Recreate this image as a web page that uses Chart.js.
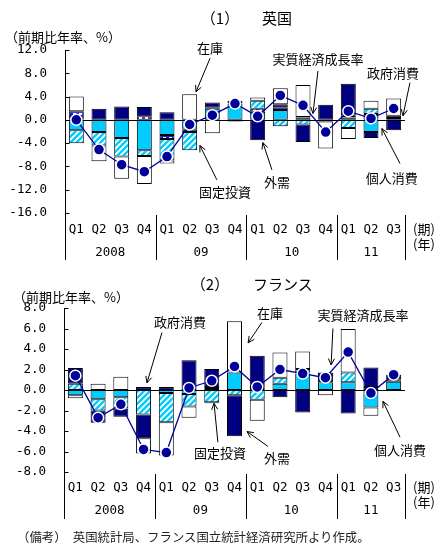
<!DOCTYPE html>
<html>
<head>
<meta charset="utf-8">
<script src="https://cdn.jsdelivr.net/npm/chart.js@4.4.0/dist/chart.umd.min.js"></script>
<style>
  body { margin: 0; background: #fff; }
  #wrap { position: relative; width: 445px; height: 552px; overflow: hidden;
          font-family: "Noto Sans CJK JP", sans-serif; color: #000; }
  canvas { position: absolute; left: 0; }
  .c { position: absolute; white-space: nowrap; transform: translate(-50%, -50%); }
  .l { position: absolute; white-space: nowrap; transform: translateY(-50%); }
</style>
</head>
<body>
<div id="wrap">
  <canvas id="uk" width="445" height="268" style="top:0"></canvas>
  <canvas id="fr" width="445" height="284" style="top:268px"></canvas>

  <div class="c" style="left:220px;top:17px;font-size:15px">（1）</div>
  <div class="l" style="left:262px;top:17px;font-size:15px">英国</div>
  <div class="l" style="left:5px;top:36px;font-size:13px">（前期比年率、%）</div>

  <div class="c" style="left:210px;top:283px;font-size:15px">（2）</div>
  <div class="l" style="left:253px;top:283px;font-size:15px">フランス</div>
  <div class="l" style="left:13px;top:296px;font-size:13px">（前期比年率、%）</div>

  <div class="l" style="left:17px;top:537px;font-size:12.4px;color:#222">（備考）　英国統計局、フランス国立統計経済研究所より作成。</div>
</div>

<script>
// categories
const quarters = ['Q1', 'Q2', 'Q3', 'Q4', 'Q1', 'Q2', 'Q3', 'Q4', 'Q1', 'Q2', 'Q3', 'Q4', 'Q1', 'Q2', 'Q3'];
const years = ['2008', '09', '10', '11'];
const yearSpans = [4, 4, 4, 3];

// UK contributions (% pt, annualised q/q)
const ukConsumption = [-1.8, -2.1, -3.1, -5.2, -2.6, -1.7, 1.9, 2.8, 1.4, 1.7, 0.4, -0.3, 0.4, -2.1, 0.3];
const ukGovernment  = [1.5, 0, 0, 0.6, -0.7, -0.4, 0.2, 0, 0.5, 0.45, 0.1, 0, 0.3, 1.0, 0.4];
const ukInvestment  = [-2.2, -2.3, -3.2, -1.0, -3.7, -3.1, 0, 0, 1.4, -1.1, -0.8, 0, -1.4, 0.9, 0];
const ukNetExports  = [0, 1.9, 2.3, 1.6, 1.3, 0, 0.9, 0.5, -3.5, 0.55, -3.0, 2.6, 5.5, -1.0, -1.8];
const ukInventories = [2.5, -2.7, -3.8, -4.8, -0.5, 4.4, -2.3, -0.3, 0.55, 2.75, 5.5, -4.6, -1.9, 1.4, 2.95];
const ukGdp         = [0.0, -5.1, -7.7, -8.9, -6.3, -0.8, 0.8, 2.8, 0.6, 4.2, 2.5, -2.1, 1.5, 0.25, 1.95];

// France contributions
const frConsumption = [-0.5, -0.9, -0.7, 0, -0.3, -0.4, 0.2, 1.7, 0.2, 0.6, 1.6, 0.75, 0.75, -1.7, 0.8];
const frGovernment  = [0, 0, 0, 0.3, 0.3, 0, 0.1, 0, 0.1, 0, 0.1, 0, 0, 0.3, 0.1];
const frInvestment  = [0.6, -1.1, -1.1, -2.4, -2.85, -1.2, -1.2, -0.5, -0.95, 0.6, 0.35, 0, 0.95, 0, 0.1];
const frNetExports  = [1.55, -1.2, -0.8, -2.3, 0, 2.9, 1.75, -4.0, 3.05, -0.7, -2.2, 0.95, -2.3, 1.9, 0.5];
const frInventories = [-0.3, 0.6, 1.3, -1.5, -3.25, -1.1, -0.1, 5.0, -2.05, 2.45, 1.7, -0.5, 4.25, -0.8, 0];
const frGdp         = [1.4, -2.7, -1.4, -5.8, -6.1, 0.2, 0.9, 2.3, 0.3, 2.0, 1.6, 1.2, 3.7, -0.3, 1.5];

const CYAN = '#00ccff';
const NAVY = '#000080';

// fill patterns
function hatch() {
  const c = document.createElement('canvas');
  c.width = 6; c.height = 6;
  const g = c.getContext('2d');
  g.fillStyle = CYAN; g.fillRect(0, 0, 6, 6);
  g.strokeStyle = '#fff'; g.lineWidth = 1.8;
  g.beginPath();
  g.moveTo(-1, 7); g.lineTo(7, -1);
  g.moveTo(-1, 1); g.lineTo(1, -1);
  g.moveTo(5, 7); g.lineTo(7, 5);
  g.stroke();
  return g.createPattern(c, 'repeat');
}
function dashes() {
  const c = document.createElement('canvas');
  c.width = 6; c.height = 4;
  const g = c.getContext('2d');
  g.fillStyle = '#1a1ad0'; g.fillRect(0, 0, 6, 4);
  g.fillStyle = '#fff'; g.fillRect(1, 1, 3, 2);
  return g.createPattern(c, 'repeat');
}

const nz = arr => arr.map(v => (v === 0 ? null : v));

function barSet(label, data, fill) {
  return { type: 'bar', label, data: nz(data), backgroundColor: fill,
           borderColor: '#000', borderWidth: 1, borderSkipped: false,
           barPercentage: 0.66, categoryPercentage: 1, order: 1 };
}

// draws zero line, axis, category labels, separators and callouts
const decor = {
  id: 'decor',
  afterDatasetDraw(chart, args) {
    if (args.index !== 0) return;
    const { ctx, chartArea: a } = chart;
    const y0 = Math.round(chart.scales.y.getPixelForValue(0)) + 0.5;
    ctx.save();
    ctx.strokeStyle = '#000'; ctx.lineWidth = 1;
    ctx.beginPath(); ctx.moveTo(a.left, y0); ctx.lineTo(a.right, y0); ctx.stroke();
    ctx.restore();
  },
  afterDraw(chart, args, opts) {
    const { ctx, chartArea: a } = chart;
    const x = chart.scales.x, y = chart.scales.y;
    ctx.save();
    ctx.strokeStyle = '#000'; ctx.lineWidth = 1; ctx.fillStyle = '#000';
    const ax = Math.round(a.left) + 0.5;
    ctx.beginPath();
    ctx.moveTo(ax, a.top); ctx.lineTo(ax, a.bottom + 47);
    y.ticks.forEach(t => {
      const py = Math.round(y.getPixelForValue(t.value)) + 0.5;
      ctx.moveTo(ax, py); ctx.lineTo(ax + 4, py);
    });
    ctx.stroke();

    // quarter labels
    ctx.font = '12.5px "DejaVu Sans Mono"';
    ctx.textAlign = 'center'; ctx.textBaseline = 'middle';
    quarters.forEach((q, i) => ctx.fillText(q, x.getPixelForValue(i), a.bottom + opts.qOff));

    // year groups
    let start = 0;
    ctx.beginPath();
    years.forEach((yr, k) => {
      const end = start + yearSpans[k];
      const sx = Math.round(x.getPixelForValue(end - 0.5)) + 0.5;
      ctx.moveTo(sx, a.bottom + 2); ctx.lineTo(sx, a.bottom + 47);
      const cx = (x.getPixelForValue(start) + x.getPixelForValue(end - 1)) / 2;
      ctx.fillText(yr, cx, a.bottom + opts.yOff);
      start = end;
    });
    ctx.stroke();

    ctx.font = '13px "Noto Sans CJK JP"';
    ctx.fillText('(期)', a.right + 19, a.bottom + opts.qOff - 1);
    ctx.fillText('(年)', a.right + 19, a.bottom + opts.qOff + 14);

    // callouts
    opts.notes.forEach(n => {
      ctx.fillText(n.text, x.getPixelForValue(n.at[0]), y.getPixelForValue(n.at[1]));
      const fx = x.getPixelForValue(n.from[0]), fy = y.getPixelForValue(n.from[1]);
      const tx = x.getPixelForValue(n.to[0]), ty = y.getPixelForValue(n.to[1]);
      const ang = Math.atan2(ty - fy, tx - fx);
      ctx.beginPath();
      ctx.moveTo(fx, fy); ctx.lineTo(tx, ty);
      ctx.moveTo(tx - 7 * Math.cos(ang - 0.45), ty - 7 * Math.sin(ang - 0.45));
      ctx.lineTo(tx, ty);
      ctx.lineTo(tx - 7 * Math.cos(ang + 0.45), ty - 7 * Math.sin(ang + 0.45));
      ctx.stroke();
    });
    ctx.restore();
  }
};

function makeChart(id, series, gdp, yMin, yMax, step, pad, axisW, deco) {
  return new Chart(document.getElementById(id), {
    data: {
      labels: quarters,
      datasets: [
        barSet('個人消費', series[0], CYAN),
        barSet('政府消費', series[1], dashes()),
        barSet('固定投資', series[2], hatch()),
        barSet('外需', series[3], NAVY),
        barSet('在庫', series[4], '#fff'),
        { type: 'line', label: '実質経済成長率', data: gdp, stack: 'gdp', order: 0,
          borderColor: '#000099', borderWidth: 1.3,
          pointRadius: 5.5, pointBackgroundColor: '#000099',
          pointBorderColor: '#fff', pointBorderWidth: 1.5 }
      ]
    },
    options: {
      responsive: false,
      animation: false,
      layout: { padding: pad },
      plugins: { legend: { display: false }, tooltip: { enabled: false }, decor: deco },
      scales: {
        x: { stacked: true, display: false },
        y: {
          stacked: true, min: yMin, max: yMax,
          afterFit: s => { s.width = axisW; },
          grid: { display: false },
          border: { display: false },
          ticks: { stepSize: step, padding: 10, color: '#000',
                   font: { family: 'DejaVu Sans Mono', size: 12.5 },
                   callback: v => v.toFixed(1) }
        }
      }
    },
    plugins: [decor]
  });
}

makeChart('uk',
  [ukConsumption, ukGovernment, ukInvestment, ukNetExports, ukInventories], ukGdp,
  -16, 12, 4, { top: 50, bottom: 55, right: 40, left: 0 }, 65,
  { qOff: 17, yOff: 40, notes: [
    { text: '在庫', at: [5.9, 12.4], from: [5.9, 10.6], to: [5.28, 4.8] },
    { text: '実質経済成長率', at: [10.66, 10.5], from: [10.66, 8.4], to: [10.44, 1.1] },
    { text: '政府消費', at: [13.97, 8.1], from: [14.72, 6.4], to: [14.41, 0.7] },
    { text: '固定投資', at: [6.56, -12.4], from: [6.2, -10.3], to: [5.45, -4.4] },
    { text: '外需', at: [8.85, -10.7], from: [8.63, -8.6], to: [8.23, -3.9] },
    { text: '個人消費', at: [13.92, -10.0], from: [14.28, -7.5], to: [13.48, -1.5] }
  ] });

makeChart('fr',
  [frConsumption, frGovernment, frInvestment, frNetExports, frInventories], frGdp,
  -8, 8, 2, { top: 40, bottom: 80, right: 40, left: 0 }, 64,
  { qOff: 16, yOff: 39, notes: [
    { text: '政府消費', at: [4.6, 6.6], from: [3.81, 5.6], to: [3.15, 0.7] },
    { text: '在庫', at: [8.56, 7.5], from: [8.21, 6.6], to: [7.6, 4.6] },
    { text: '実質経済成長率', at: [12.65, 7.35], from: [11.33, 6.0], to: [11.25, 2.45] },
    { text: '固定投資', at: [6.36, -6.2], from: [6.27, -5.1], to: [6.1, -1.3] },
    { text: '外需', at: [8.87, -6.6], from: [8.47, -5.5], to: [7.55, -4.05] },
    { text: '個人消費', at: [14.28, -5.9], from: [14.28, -4.6], to: [13.53, -1.1] }
  ] });
</script>
</body>
</html>
